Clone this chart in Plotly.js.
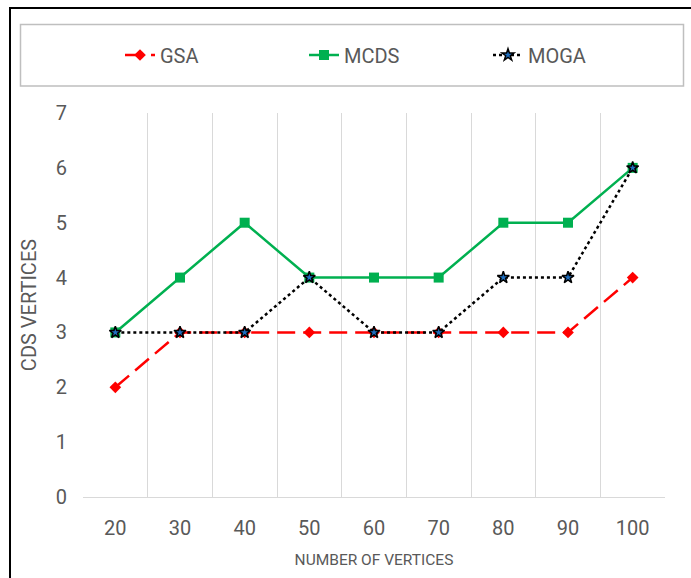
<!DOCTYPE html>
<html>
<head>
<meta charset="utf-8">
<script src="https://cdn.plot.ly/plotly-3.0.1.min.js"></script>
<style>
html,body{margin:0;padding:0;background:#fff;overflow:hidden;}
#chart{width:691px;height:578px;}
</style>
</head>
<body>
<div id="chart"></div>
<script>
const categories = ["20","30","40","50","60","70","80","90","100"];
const gsa  = [2,3,3,3,3,3,3,3,4];
const mcds = [3,4,5,4,4,4,5,5,6];
const moga = [3,3,3,4,3,3,4,4,6];

const W = 691, H = 578;
const M = {l:83, r:26, t:113, b:81};
const pw = W - M.l - M.r, ph = H - M.t - M.b;
const px = x => (x - M.l) / pw;
const py = y => (H - M.b - y) / ph;

const FONT = 'Roboto, "Liberation Sans Narrow", sans-serif';
const GREY = '#595959';

const traces = [
  {x:categories, y:gsa, name:'GSA', type:'scatter', mode:'lines+markers',
   line:{color:'#FF0000', width:2.5, dash:'18px,8px'},
   marker:{symbol:'diamond', size:9, color:'#FF0000'}},
  {x:categories, y:mcds, name:'MCDS', type:'scatter', mode:'lines+markers',
   line:{color:'#00B050', width:2.5},
   marker:{symbol:'square', size:10, color:'#00B050'}},
  {x:categories, y:moga, name:'MOGA', type:'scatter', mode:'lines+markers',
   line:{color:'#000000', width:2.5, dash:'dot'},
   marker:{symbol:'star', size:9, color:'#1F6FC0', line:{color:'#000000', width:1.5}}}
];

const layout = {
  width:W, height:H,
  margin:M,
  paper_bgcolor:'#ffffff', plot_bgcolor:'#ffffff',
  font:{family:FONT, color:GREY, size:20},
  showlegend:true,
  legend:{orientation:'h', x:px(120), xanchor:'left', y:py(55), yanchor:'middle',
          entrywidth:139, entrywidthmode:'pixels', itemgap:0,
          font:{family:FONT, size:20, color:GREY}, bgcolor:'rgba(0,0,0,0)', borderwidth:0},
  xaxis:{type:'category', range:[-0.5,8.5], tickson:'boundaries', ticks:'',
         showgrid:true, gridcolor:'#D9D9D9', gridwidth:1,
         showline:true, linecolor:'#D9D9D9', linewidth:1, zeroline:false,
         tickfont:{family:FONT, size:20, color:GREY}, ticklabelstandoff:13,
         title:{text:'NUMBER OF VERTICES', font:{family:FONT, size:15.5, color:GREY}, standoff:15},
         fixedrange:true},
  yaxis:{range:[0,7], dtick:1, tick0:0, ticks:'', showgrid:false, zeroline:false, showline:false,
         tickfont:{family:FONT, size:20, color:GREY}, ticklabelstandoff:15,
         title:{text:'CDS VERTICES', font:{family:FONT, size:20, color:GREY}, standoff:13},
         fixedrange:true},
  shapes:[
    {type:'rect', xref:'paper', yref:'paper', x0:px(10), x1:px(720), y0:py(8), y1:py(620),
     line:{color:'#000000', width:2}, fillcolor:'rgba(0,0,0,0)'},
    {type:'rect', xref:'paper', yref:'paper', x0:px(20.5), x1:px(683.5), y0:py(24.5), y1:py(86),
     line:{color:'#BFBFBF', width:1.5}, fillcolor:'rgba(0,0,0,0)'}
  ]
};

Plotly.newPlot('chart', traces, layout, {displayModeBar:false, staticPlot:true});
</script>
</body>
</html>
